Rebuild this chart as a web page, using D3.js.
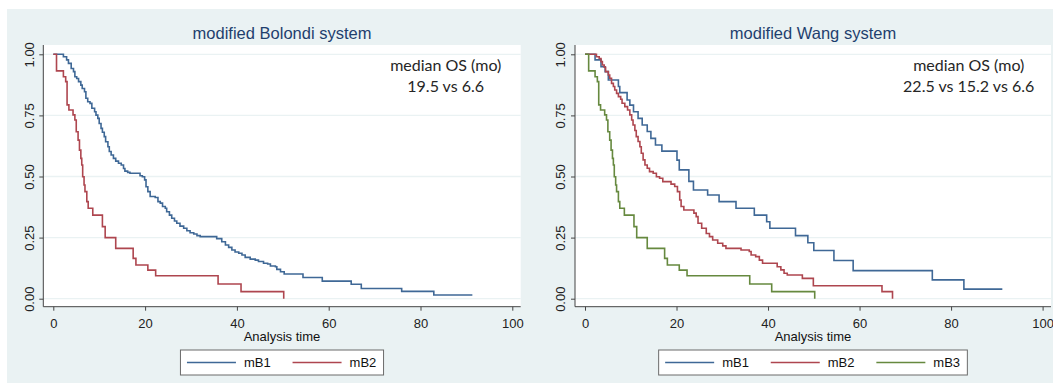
<!DOCTYPE html>
<html><head><meta charset="utf-8">
<script src="https://cdn.jsdelivr.net/npm/d3@7"></script>
<style>body{margin:0;background:#fff}svg{display:block}</style>
</head><body>
<script>
// ---------------- DATA ----------------
const xTicks = [0, 20, 40, 60, 80, 100];
const yTicks = [0, 0.25, 0.5, 0.75, 1];
const xTitle = "Analysis time";

const bolondiTitle = "modified Bolondi system";
const bolondiNote = ["median OS (mo)", "19.5 vs 6.6"];
const bolondiSeries = ["mB1", "mB2"];
const bolondiMB1Time = [2.2,2.9,3.3,3.9,4.4,4.7,5.1,5.5,6.0,6.3,6.8,7.1,7.5,8.0,8.4,9.0,9.3,9.7,10.0,10.4,10.7,11.1,11.4,11.9,12.2,12.6,13.1,13.6,14.2,14.8,15.3,15.6,16.2,16.7,18.9,19.4,19.9,20.2,20.6,21.1,22.2,22.8,23.3,23.8,24.4,24.7,25.3,25.8,26.4,26.9,27.6,28.4,29.1,29.8,30.6,31.3,32.0,35.6,36.7,37.5,38.2,38.9,39.6,40.4,41.1,41.8,42.9,44.0,44.7,45.8,46.7,47.3,48.4,48.7,49.5,50.3,54.4,58.6,64.9,67.1,75.9,82.9];
const bolondiMB1Surv = [0.990,0.977,0.963,0.942,0.929,0.908,0.901,0.888,0.874,0.860,0.847,0.820,0.806,0.799,0.779,0.765,0.751,0.738,0.717,0.697,0.681,0.663,0.642,0.622,0.602,0.588,0.574,0.563,0.554,0.547,0.533,0.522,0.517,0.513,0.503,0.499,0.486,0.458,0.438,0.418,0.414,0.397,0.391,0.377,0.370,0.356,0.342,0.329,0.318,0.309,0.297,0.288,0.278,0.270,0.265,0.258,0.254,0.246,0.233,0.220,0.210,0.199,0.191,0.186,0.179,0.169,0.162,0.158,0.152,0.145,0.142,0.134,0.131,0.120,0.110,0.101,0.087,0.072,0.059,0.042,0.030,0.015];
const bolondiMB1End = 91.3;
const bolondiMB2Time = [0.7,2.2,2.7,3.0,3.4,4.3,4.7,5.0,5.4,5.7,6.0,6.2,6.4,6.7,6.9,7.3,7.6,8.6,10.7,11.3,13.6,17.4,18.0,20.6,22.3,35.9,40.9,50.2];
const bolondiMB2Surv = [0.932,0.908,0.888,0.793,0.772,0.752,0.731,0.683,0.649,0.608,0.574,0.547,0.499,0.465,0.438,0.397,0.370,0.342,0.295,0.250,0.206,0.165,0.138,0.117,0.094,0.060,0.029,0];
const bolondiMB2End = 50.2;

const wangTitle = "modified Wang system";
const wangNote = ["median OS (mo)", "22.5 vs 15.2 vs 6.6"];
const wangSeries = ["mB1", "mB2", "mB3"];
const wangMB1Time = [2.2,3.5,4.4,5.1,7.3,7.6,9.2,9.8,10.6,11.6,12.5,13.6,14.4,15.4,16.8,20.1,20.6,22.7,23.7,26.8,29.3,33.0,37.0,39.7,40.4,46.0,48.7,50.0,54.4,58.6,75.9,82.8];
const wangMB1Surv = [0.977,0.949,0.929,0.895,0.868,0.843,0.813,0.792,0.765,0.738,0.711,0.684,0.656,0.629,0.604,0.567,0.527,0.480,0.445,0.424,0.397,0.370,0.342,0.315,0.288,0.258,0.229,0.197,0.156,0.115,0.077,0.039];
const wangMB1End = 91.2;
const wangMB2Time = [2.5,3.1,3.5,3.8,4.2,4.5,5.1,5.4,5.8,6.2,6.5,6.9,7.3,7.8,8.1,8.7,9.3,9.8,10.2,10.5,10.9,11.2,11.6,12.0,12.3,12.7,13.1,13.6,14.1,14.9,15.6,16.3,17.0,18.8,19.6,20.2,20.7,21.0,21.6,23.8,24.3,24.7,25.5,26.5,27.2,27.9,29.0,30.1,30.8,34.1,35.9,36.3,37.3,38.1,38.8,42.0,42.8,43.5,44.2,47.5,49.9,64.9,67.2];
const wangMB2Surv = [0.990,0.983,0.970,0.956,0.947,0.929,0.915,0.902,0.881,0.868,0.854,0.840,0.827,0.816,0.800,0.786,0.772,0.752,0.731,0.711,0.688,0.663,0.643,0.622,0.595,0.568,0.547,0.534,0.520,0.513,0.499,0.493,0.479,0.469,0.459,0.438,0.404,0.377,0.363,0.350,0.336,0.309,0.288,0.267,0.254,0.240,0.227,0.216,0.206,0.199,0.193,0.179,0.172,0.158,0.145,0.131,0.118,0.104,0.097,0.083,0.053,0.029,0];
const wangMB2End = 67.2;
const wangMB3Time = [0.8,2.2,2.7,3.0,3.4,4.3,4.7,5.0,5.4,5.7,6.0,6.2,6.4,6.7,6.9,7.3,7.6,8.6,10.7,11.3,13.6,17.4,18.0,20.6,22.3,36.0,40.8,50.2];
const wangMB3Surv = [0.932,0.908,0.888,0.793,0.772,0.752,0.731,0.683,0.649,0.608,0.574,0.547,0.499,0.465,0.438,0.397,0.370,0.342,0.295,0.250,0.206,0.165,0.138,0.117,0.094,0.060,0.029,0];
const wangMB3End = 50.2;

// ---------------- STYLE / LAYOUT ----------------
const colors = ["#3f6896", "#ae464f", "#66893f"];
const bg = "#eaf2f3";
const W = 1053, H = 383;
const svg = d3.select("body").append("svg").attr("width", W).attr("height", H);
svg.append("rect").attr("x", 7).attr("y", 9).attr("width", W - 7).attr("height", H - 9).attr("fill", bg);

const plotTop = 45, plotBottom = 306.7;
const y = d3.scaleLinear().domain([0, 1]).range([298.7, 54.3]);
const FONT = "'Liberation Sans', Arial, sans-serif";

function build(series, times, survs, ends) {
  return series.map((name, i) => {
    const pts = [[0, 1]];
    times[i].forEach((t, j) => pts.push([t, survs[i][j]]));
    pts.push([ends[i], survs[i][survs[i].length - 1]]);
    return {name, pts, color: colors[i]};
  });
}

const panels = [
  {title: bolondiTitle, note: bolondiNote, x0: 43.3, x1: 520.7, noteX: 445.7,
   curves: build(bolondiSeries, [bolondiMB1Time, bolondiMB2Time], [bolondiMB1Surv, bolondiMB2Surv], [bolondiMB1End, bolondiMB2End])},
  {title: wangTitle, note: wangNote, x0: 575, x1: 1051, noteX: 968.7,
   curves: build(wangSeries, [wangMB1Time, wangMB2Time, wangMB3Time], [wangMB1Surv, wangMB2Surv, wangMB3Surv], [wangMB1End, wangMB2End, wangMB3End])}
];

panels.forEach(p => {
  const g = svg.append("g");
  const x = d3.scaleLinear().domain([0, 100]).range([p.x0 + 10, p.x1 - 8.4]);
  const cx = (p.x0 + p.x1) / 2;
  g.append("rect").attr("x", p.x0).attr("y", plotTop).attr("width", p.x1 - p.x0).attr("height", plotBottom - plotTop).attr("fill", "#fff");
  // gridlines
  g.selectAll(".grid").data(yTicks).join("line")
    .attr("x1", p.x0).attr("x2", p.x1).attr("y1", d => y(d)).attr("y2", d => y(d))
    .attr("stroke", bg).attr("stroke-width", 1.3);
  // title
  g.append("text").attr("x", cx).attr("y", 39.3).attr("text-anchor", "middle")
    .attr("font-family", FONT).attr("font-size", 16.5).attr("fill", "#1f3f6e").text(p.title);
  // curves
  const line = d3.line().x(d => x(d[0])).y(d => y(d[1])).curve(d3.curveStepAfter);
  g.selectAll(".curve").data(p.curves).join("path")
    .attr("d", d => line(d.pts)).attr("fill", "none")
    .attr("stroke", d => d.color).attr("stroke-width", 1.6);
  // y axis
  const ya = g.append("g").attr("transform", `translate(${p.x0},0)`)
    .call(d3.axisLeft(y).tickValues(yTicks).tickFormat(d3.format(".2f")).tickSize(4).tickSizeOuter(0));
  ya.select(".domain").remove();
  ya.selectAll("line").attr("stroke", "#444");
  ya.selectAll("text").attr("x", null).attr("dy", null)
    .attr("transform", "translate(-9.8,0) rotate(-90)").attr("text-anchor", "middle")
    .attr("font-family", FONT).attr("font-size", 13).attr("fill", "#222");
  g.append("line").attr("x1", p.x0).attr("x2", p.x0).attr("y1", plotTop).attr("y2", plotBottom)
    .attr("stroke", "#444").attr("stroke-width", 1);
  // x axis
  const xa = g.append("g").attr("transform", `translate(0,${plotBottom})`)
    .call(d3.axisBottom(x).tickValues(xTicks).tickSize(4).tickSizeOuter(0).tickPadding(8));
  xa.select(".domain").remove();
  xa.selectAll("line").attr("stroke", "#444");
  xa.selectAll("text").attr("font-family", FONT).attr("font-size", 13).attr("fill", "#222");
  g.append("line").attr("x1", p.x0).attr("x2", p.x1).attr("y1", plotBottom).attr("y2", plotBottom)
    .attr("stroke", "#444").attr("stroke-width", 1);
  g.append("text").attr("x", cx).attr("y", 340.7).attr("text-anchor", "middle")
    .attr("font-family", FONT).attr("font-size", 13).attr("fill", "#111").text(xTitle);
  // note
  p.note.forEach((t, i) => g.append("text").attr("x", p.noteX).attr("y", 70.7 + i * 21)
    .attr("text-anchor", "middle").attr("font-family", "Lato, 'Open Sans', sans-serif")
    .attr("font-size", 16).attr("fill", "#262626").text(t));
  // legend
  const n = p.curves.length, step = 105.6;
  const bw = 14 + (n - 1) * step + 83.5;
  const bx = cx - bw / 2;
  g.append("rect").attr("x", bx).attr("y", 350).attr("width", bw).attr("height", 25)
    .attr("fill", "#fff").attr("stroke", "#6b6b6b").attr("stroke-width", 1);
  p.curves.forEach((c, i) => {
    const lx = bx + 6.5 + i * step;
    g.append("line").attr("x1", lx).attr("x2", lx + 49).attr("y1", 362.5).attr("y2", 362.5)
      .attr("stroke", c.color).attr("stroke-width", 1.6);
    g.append("text").attr("x", lx + 57).attr("y", 367.2).attr("font-family", FONT)
      .attr("font-size", 13).attr("fill", "#111").text(c.name);
  });
});
</script>
</body></html>
